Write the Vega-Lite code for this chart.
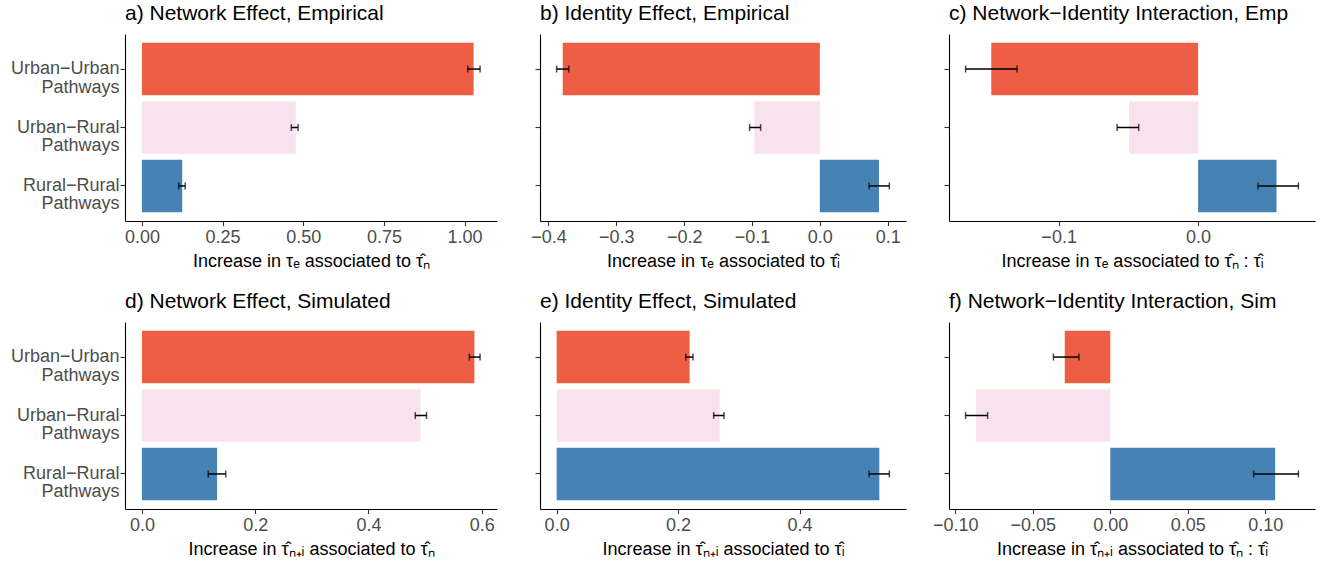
{
  "$schema": "https://vega.github.io/schema/vega-lite/v6.json",
  "padding": {"left": 10, "top": 3, "right": 5, "bottom": 5},
  "data": {"values": [
    {"panel": "a", "cat": "Urban−Urban Pathways", "value": 1.028, "lo": 1.010, "hi": 1.048},
    {"panel": "a", "cat": "Urban−Rural Pathways", "value": 0.477, "lo": 0.463, "hi": 0.484},
    {"panel": "a", "cat": "Rural−Rural Pathways", "value": 0.125, "lo": 0.114, "hi": 0.134},
    {"panel": "b", "cat": "Urban−Urban Pathways", "value": -0.379, "lo": -0.388, "hi": -0.370},
    {"panel": "b", "cat": "Urban−Rural Pathways", "value": -0.0966, "lo": -0.1035, "hi": -0.0873},
    {"panel": "b", "cat": "Rural−Rural Pathways", "value": 0.0872, "lo": 0.0725, "hi": 0.1024},
    {"panel": "c", "cat": "Urban−Urban Pathways", "value": -0.1483, "lo": -0.1667, "hi": -0.1298},
    {"panel": "c", "cat": "Urban−Rural Pathways", "value": -0.0495, "lo": -0.0581, "hi": -0.0426},
    {"panel": "c", "cat": "Rural−Rural Pathways", "value": 0.0562, "lo": 0.0429, "hi": 0.0719},
    {"panel": "d", "cat": "Urban−Urban Pathways", "value": 0.587, "lo": 0.578, "hi": 0.597},
    {"panel": "d", "cat": "Urban−Rural Pathways", "value": 0.492, "lo": 0.4826, "hi": 0.5025},
    {"panel": "d", "cat": "Rural−Rural Pathways", "value": 0.1327, "lo": 0.117, "hi": 0.148},
    {"panel": "e", "cat": "Urban−Urban Pathways", "value": 0.219, "lo": 0.2126, "hi": 0.2246},
    {"panel": "e", "cat": "Urban−Rural Pathways", "value": 0.2685, "lo": 0.2586, "hi": 0.2756},
    {"panel": "e", "cat": "Rural−Rural Pathways", "value": 0.5315, "lo": 0.5145, "hi": 0.548},
    {"panel": "f", "cat": "Urban−Urban Pathways", "value": -0.0294, "lo": -0.0367, "hi": -0.0202},
    {"panel": "f", "cat": "Urban−Rural Pathways", "value": -0.0867, "lo": -0.0934, "hi": -0.0792},
    {"panel": "f", "cat": "Rural−Rural Pathways", "value": 0.1064, "lo": 0.0925, "hi": 0.1214}
  ]},
  "bounds": "flush",
  "columns": 3,
  "spacing": {"row": 101, "column": 43},
  "resolve": {"scale": {"x": "independent", "y": "independent"}, "axis": {"x": "independent", "y": "independent"}},
  "concat": [
    {
      "width": 372, "height": 187,
      "title": {"text": "a) Network Effect, Empirical"},
      "transform": [{"filter": "datum.panel === 'a'"}],
      "encoding": {"y": {"field": "cat", "type": "nominal", "title": null, "sort": ["Urban−Urban Pathways", "Urban−Rural Pathways", "Rural−Rural Pathways"], "scale": {"paddingInner": 0.1, "paddingOuter": 0.15}, "axis": {"labelExpr": "split(datum.label, ' ')", "labelLineHeight": 18.5, "labelAlign": "right", "labelBaseline": "middle", "tickSize": 5, "labelPadding": 1}}},
      "layer": [
        {"mark": {"type": "bar"}, "encoding": {"x": {"field": "value", "type": "quantitative", "title": "Increase in τₑ associated to τ̂ₙ", "scale": {"domain": [-0.0524, 1.1004], "nice": false, "zero": false}, "axis": {"values": [0, 0.25, 0.5, 0.75, 1], "format": ".2f"}}, "x2": {"datum": 0}, "color": {"field": "cat", "type": "nominal", "legend": null, "scale": {"domain": ["Urban−Urban Pathways", "Urban−Rural Pathways", "Rural−Rural Pathways"], "range": ["#EE5E44", "#F8E2EE", "#4682B4"]}}}},
        {"mark": {"type": "rule", "color": "black", "strokeWidth": 1.5}, "encoding": {"x": {"field": "lo", "type": "quantitative"}, "x2": {"field": "hi"}}},
        {"mark": {"type": "tick", "color": "black", "size": 7, "thickness": 1.5, "orient": "vertical"}, "encoding": {"x": {"field": "lo", "type": "quantitative"}}},
        {"mark": {"type": "tick", "color": "black", "size": 7, "thickness": 1.5, "orient": "vertical"}, "encoding": {"x": {"field": "hi", "type": "quantitative"}}}
      ]
    },
    {
      "width": 366, "height": 187,
      "title": {"text": "b) Identity Effect, Empirical"},
      "transform": [{"filter": "datum.panel === 'b'"}],
      "encoding": {"y": {"field": "cat", "type": "nominal", "title": null, "sort": ["Urban−Urban Pathways", "Urban−Rural Pathways", "Rural−Rural Pathways"], "scale": {"paddingInner": 0.1, "paddingOuter": 0.15}, "axis": {"labels": false, "tickSize": 5}}},
      "layer": [
        {"mark": {"type": "bar"}, "encoding": {"x": {"field": "value", "type": "quantitative", "title": "Increase in τₑ associated to τ̂ᵢ", "scale": {"domain": [-0.4125, 0.127], "nice": false, "zero": false}, "axis": {"values": [-0.4, -0.3, -0.2, -0.1, 0, 0.1], "format": ".1f"}}, "x2": {"datum": 0}, "color": {"field": "cat", "type": "nominal", "legend": null, "scale": {"domain": ["Urban−Urban Pathways", "Urban−Rural Pathways", "Rural−Rural Pathways"], "range": ["#EE5E44", "#F8E2EE", "#4682B4"]}}}},
        {"mark": {"type": "rule", "color": "black", "strokeWidth": 1.5}, "encoding": {"x": {"field": "lo", "type": "quantitative"}, "x2": {"field": "hi"}}},
        {"mark": {"type": "tick", "color": "black", "size": 7, "thickness": 1.5, "orient": "vertical"}, "encoding": {"x": {"field": "lo", "type": "quantitative"}}},
        {"mark": {"type": "tick", "color": "black", "size": 7, "thickness": 1.5, "orient": "vertical"}, "encoding": {"x": {"field": "hi", "type": "quantitative"}}}
      ]
    },
    {
      "width": 366, "height": 187,
      "title": {"text": "c) Network−Identity Interaction, Emp"},
      "transform": [{"filter": "datum.panel === 'c'"}],
      "encoding": {"y": {"field": "cat", "type": "nominal", "title": null, "sort": ["Urban−Urban Pathways", "Urban−Rural Pathways", "Rural−Rural Pathways"], "scale": {"paddingInner": 0.1, "paddingOuter": 0.15}, "axis": {"labels": false, "tickSize": 5}}},
      "layer": [
        {"mark": {"type": "bar"}, "encoding": {"x": {"field": "value", "type": "quantitative", "title": "Increase in τₑ associated to τ̂ₙ : τ̂ᵢ", "scale": {"domain": [-0.1786, 0.0838], "nice": false, "zero": false}, "axis": {"values": [-0.1, 0], "format": ".1f"}}, "x2": {"datum": 0}, "color": {"field": "cat", "type": "nominal", "legend": null, "scale": {"domain": ["Urban−Urban Pathways", "Urban−Rural Pathways", "Rural−Rural Pathways"], "range": ["#EE5E44", "#F8E2EE", "#4682B4"]}}}},
        {"mark": {"type": "rule", "color": "black", "strokeWidth": 1.5}, "encoding": {"x": {"field": "lo", "type": "quantitative"}, "x2": {"field": "hi"}}},
        {"mark": {"type": "tick", "color": "black", "size": 7, "thickness": 1.5, "orient": "vertical"}, "encoding": {"x": {"field": "lo", "type": "quantitative"}}},
        {"mark": {"type": "tick", "color": "black", "size": 7, "thickness": 1.5, "orient": "vertical"}, "encoding": {"x": {"field": "hi", "type": "quantitative"}}}
      ]
    },
    {
      "width": 372, "height": 187,
      "title": {"text": "d) Network Effect, Simulated"},
      "transform": [{"filter": "datum.panel === 'd'"}],
      "encoding": {"y": {"field": "cat", "type": "nominal", "title": null, "sort": ["Urban−Urban Pathways", "Urban−Rural Pathways", "Rural−Rural Pathways"], "scale": {"paddingInner": 0.1, "paddingOuter": 0.15}, "axis": {"labelExpr": "split(datum.label, ' ')", "labelLineHeight": 18.5, "labelAlign": "right", "labelBaseline": "middle", "tickSize": 5, "labelPadding": 1}}},
      "layer": [
        {"mark": {"type": "bar"}, "encoding": {"x": {"field": "value", "type": "quantitative", "title": "Increase in τ̂ₙ₊ᵢ associated to τ̂ₙ", "scale": {"domain": [-0.0299, 0.6269], "nice": false, "zero": false}, "axis": {"values": [0, 0.2, 0.4, 0.6], "format": ".1f"}}, "x2": {"datum": 0}, "color": {"field": "cat", "type": "nominal", "legend": null, "scale": {"domain": ["Urban−Urban Pathways", "Urban−Rural Pathways", "Rural−Rural Pathways"], "range": ["#EE5E44", "#F8E2EE", "#4682B4"]}}}},
        {"mark": {"type": "rule", "color": "black", "strokeWidth": 1.5}, "encoding": {"x": {"field": "lo", "type": "quantitative"}, "x2": {"field": "hi"}}},
        {"mark": {"type": "tick", "color": "black", "size": 7, "thickness": 1.5, "orient": "vertical"}, "encoding": {"x": {"field": "lo", "type": "quantitative"}}},
        {"mark": {"type": "tick", "color": "black", "size": 7, "thickness": 1.5, "orient": "vertical"}, "encoding": {"x": {"field": "hi", "type": "quantitative"}}}
      ]
    },
    {
      "width": 366, "height": 187,
      "title": {"text": "e) Identity Effect, Simulated"},
      "transform": [{"filter": "datum.panel === 'e'"}],
      "encoding": {"y": {"field": "cat", "type": "nominal", "title": null, "sort": ["Urban−Urban Pathways", "Urban−Rural Pathways", "Rural−Rural Pathways"], "scale": {"paddingInner": 0.1, "paddingOuter": 0.15}, "axis": {"labels": false, "tickSize": 5}}},
      "layer": [
        {"mark": {"type": "bar"}, "encoding": {"x": {"field": "value", "type": "quantitative", "title": "Increase in τ̂ₙ₊ᵢ associated to τ̂ᵢ", "scale": {"domain": [-0.0274, 0.5754], "nice": false, "zero": false}, "axis": {"values": [0, 0.2, 0.4], "format": ".1f"}}, "x2": {"datum": 0}, "color": {"field": "cat", "type": "nominal", "legend": null, "scale": {"domain": ["Urban−Urban Pathways", "Urban−Rural Pathways", "Rural−Rural Pathways"], "range": ["#EE5E44", "#F8E2EE", "#4682B4"]}}}},
        {"mark": {"type": "rule", "color": "black", "strokeWidth": 1.5}, "encoding": {"x": {"field": "lo", "type": "quantitative"}, "x2": {"field": "hi"}}},
        {"mark": {"type": "tick", "color": "black", "size": 7, "thickness": 1.5, "orient": "vertical"}, "encoding": {"x": {"field": "lo", "type": "quantitative"}}},
        {"mark": {"type": "tick", "color": "black", "size": 7, "thickness": 1.5, "orient": "vertical"}, "encoding": {"x": {"field": "hi", "type": "quantitative"}}}
      ]
    },
    {
      "width": 366, "height": 187,
      "title": {"text": "f) Network−Identity Interaction, Sim"},
      "transform": [{"filter": "datum.panel === 'f'"}],
      "encoding": {"y": {"field": "cat", "type": "nominal", "title": null, "sort": ["Urban−Urban Pathways", "Urban−Rural Pathways", "Rural−Rural Pathways"], "scale": {"paddingInner": 0.1, "paddingOuter": 0.15}, "axis": {"labels": false, "tickSize": 5}}},
      "layer": [
        {"mark": {"type": "bar"}, "encoding": {"x": {"field": "value", "type": "quantitative", "title": "Increase in τ̂ₙ₊ᵢ associated to τ̂ₙ : τ̂ᵢ", "scale": {"domain": [-0.1041, 0.1321], "nice": false, "zero": false}, "axis": {"values": [-0.1, -0.05, 0, 0.05, 0.1], "format": ".2f"}}, "x2": {"datum": 0}, "color": {"field": "cat", "type": "nominal", "legend": null, "scale": {"domain": ["Urban−Urban Pathways", "Urban−Rural Pathways", "Rural−Rural Pathways"], "range": ["#EE5E44", "#F8E2EE", "#4682B4"]}}}},
        {"mark": {"type": "rule", "color": "black", "strokeWidth": 1.5}, "encoding": {"x": {"field": "lo", "type": "quantitative"}, "x2": {"field": "hi"}}},
        {"mark": {"type": "tick", "color": "black", "size": 7, "thickness": 1.5, "orient": "vertical"}, "encoding": {"x": {"field": "lo", "type": "quantitative"}}},
        {"mark": {"type": "tick", "color": "black", "size": 7, "thickness": 1.5, "orient": "vertical"}, "encoding": {"x": {"field": "hi", "type": "quantitative"}}}
      ]
    }
  ],
  "config": {
    "view": {"stroke": null},
    "font": "Liberation Sans",
    "axis": {"grid": false, "domainColor": "black", "domainWidth": 1.1, "tickColor": "#333333", "tickWidth": 1.1, "tickSize": 4.5, "labelColor": "#4D4D4D", "labelFontSize": 18, "labelFont": "Liberation Sans", "titleFont": "Liberation Sans", "titleFontSize": 18, "titleFontWeight": "normal", "titleColor": "black", "labelPadding": 3, "titlePadding": 6, "labelFlush": false, "labelOverlap": false, "labelBound": false},
    "title": {"anchor": "start", "frame": "group", "fontSize": 21, "fontWeight": "normal", "font": "Liberation Sans", "color": "black", "baseline": "alphabetic", "offset": 10}
  }
}
